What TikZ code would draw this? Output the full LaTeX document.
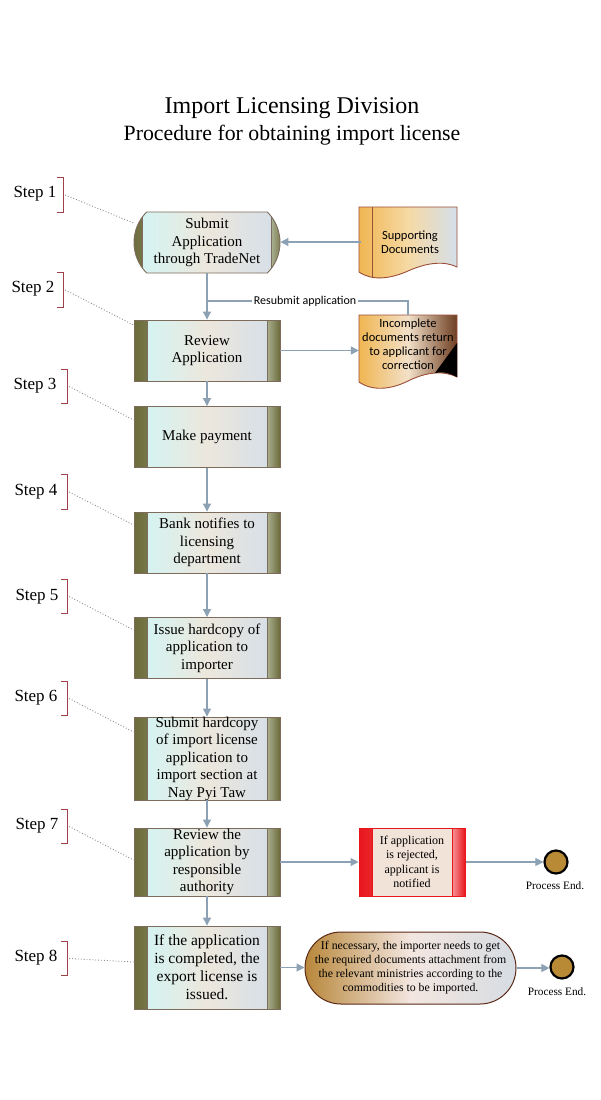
\documentclass[tikz,border=0pt]{standalone}
\usepackage{fontspec}
\setmainfont{Liberation Serif}
\newfontfamily\sansf{Carlito}
\usetikzlibrary{shapes.misc,arrows.meta}
\definecolor{bandD}{HTML}{6B6A3A}
\definecolor{bandL}{HTML}{DDE8D6}
\definecolor{cyanL}{HTML}{D0F6F6}
\definecolor{beigeM}{HTML}{ECE7DD}
\definecolor{greyB}{HTML}{D3DEE9}
\definecolor{boxline}{HTML}{7D6B5C}
\definecolor{arrowc}{HTML}{8CA1B4}
\definecolor{stepred}{HTML}{A0404A}
\definecolor{dotc}{HTML}{8C8C8C}
\definecolor{docline}{HTML}{9C4E38}
\definecolor{orangeD}{HTML}{F0B652}
\definecolor{docM}{HTML}{F6D9A4}
\definecolor{docR}{HTML}{D4DFEA}
\definecolor{incM}{HTML}{F2E0C8}
\definecolor{incR}{HTML}{6E3E22}
\definecolor{redB}{HTML}{E8161C}
\definecolor{redM}{HTML}{F2E3D9}
\definecolor{pillB}{HTML}{B8873A}
\definecolor{pillM}{HTML}{F3E6E0}
\definecolor{pillR}{HTML}{D6DCE2}
\definecolor{pillD}{HTML}{5B2A17}
\definecolor{goldC}{HTML}{B98A36}
\newcommand\mybands[4]{%
  \shade[left color=#1, right color=#2] (path picture bounding box.north west) rectangle ([xshift=13pt]path picture bounding box.south west);
  \shade[left color=#3, right color=#1] ([xshift=-13pt]path picture bounding box.north east) rectangle (path picture bounding box.south east);
  \draw[#4, line width=0.8pt] ([xshift=13pt]path picture bounding box.north west) -- ([xshift=13pt]path picture bounding box.south west)
    ([xshift=-13pt]path picture bounding box.north east) -- ([xshift=-13pt]path picture bounding box.south east);}
\begin{document}
\begin{tikzpicture}[x=1pt,y=-1pt,
  procbox/.style={rectangle, draw=boxline, line width=0.9pt, left color=cyanL, right color=greyB, middle color=beigeM,
    minimum width=146pt, inner sep=0pt, path picture={\mybands{bandD}{bandL}{bandD!45!bandL}{boxline}}},
  boxtext/.style={font=\fontsize{15}{17.5}\selectfont, align=center, inner sep=0pt},
  redbox/.style={rectangle, draw=redB, line width=1pt, fill=redM, minimum width=106pt, minimum height=68pt, inner sep=0pt,
    path picture={\mybands{redB}{redB!45!white}{redB!45!white}{redB}}},
  redtext/.style={font=\fontsize{12}{14.5}\selectfont, align=center, inner sep=0pt},
  pillbox/.style={rounded rectangle, draw=pillD, line width=1pt, left color=pillB, right color=pillR, middle color=pillM,
    minimum width=211pt, minimum height=72pt, inner sep=0pt},
  pilltext/.style={font=\fontsize{11.8}{14}\selectfont, align=center, inner sep=0pt},
  endc/.style={circle, draw=black, line width=2.2pt, fill=goldC, minimum size=23pt, inner sep=0pt},
  endtext/.style={font=\fontsize{11.3}{13}\selectfont, inner sep=0pt},
  doctext/.style={font=\sansf\fontsize{12.5}{14}\selectfont, align=center, inner sep=0pt, minimum width=98pt},
  docshape/.style={draw=docline, line width=0.9pt},
  conn/.style={draw=arrowc, line width=1.1pt, -{Triangle[length=8pt,width=8pt]}},
  connplain/.style={draw=arrowc, line width=1.1pt},
  steptext/.style={font=\fontsize{17}{20}\selectfont, inner sep=0pt},
  bracketn/.style={minimum width=6pt, minimum height=34pt, inner sep=0pt},
  bracketline/.style={draw=stepred, line width=1.3pt},
  dots/.style={draw=dotc, line width=0.9pt, dotted}
]
\useasboundingbox[fill=white] (0,0) rectangle (600,1100);

% titles
\node[font=\fontsize{24}{28}\selectfont, inner sep=0pt] (title) at (292,108) {Import Licensing Division};
\node[font=\fontsize{21.8}{25}\selectfont, inner sep=0pt] (subtitle) at (292,135) {Procedure for obtaining import license};

% document shapes
\path[docshape, left color=orangeD, right color=docR, middle color=docM]
  (359,207) -- (457,207) -- (457,267) .. controls (445,261) and (428,262) .. (408,271)
  .. controls (390,279) and (372,281) .. (359,272) -- cycle;
\draw[docshape] (372,207) -- (372,278);
\node[doctext, minimum height=70pt] (sd) at (410,242) {Supporting\\Documents};

\path[docshape, left color=orangeD, right color=incR, middle color=incM]
  (359,315) -- (457,315) -- (457,377) .. controls (445,371) and (428,371) .. (408,381)
  .. controls (390,390) and (372,391) .. (359,382) -- cycle;
\fill[black] (457,343) -- (435,373) .. controls (445,371) and (451,374) .. (457,377) -- cycle;
\node[doctext, minimum height=58pt] (inc) at (408,344) {Incomplete\\documents return\\to applicant for\\correction};

% process boxes
\node[procbox, rounded rectangle, rounded rectangle arc length=90, minimum height=61pt,
  label={[boxtext]center:{Submit\\Application\\through TradeNet}}] (s1) at (207,242.5) {};
\node[procbox, minimum height=61pt, label={[boxtext]center:{Review\\Application}}] (s2) at (207,350.5) {};
\node[procbox, minimum height=61pt, label={[boxtext]center:{Make payment}}] (s3) at (207,437) {};
\node[procbox, minimum height=61pt, label={[boxtext]center:{Bank notifies to\\licensing\\department}}] (s4) at (207,542.5) {};
\node[procbox, minimum height=61pt, label={[boxtext]center:{Issue hardcopy of\\application to\\importer}}] (s5) at (207,648) {};
\node[procbox, minimum height=83pt, label={[boxtext]center:{Submit hardcopy\\of import license\\application to\\import section at\\Nay Pyi Taw}}] (s6) at (207,758.5) {};
\node[procbox, minimum height=68pt, label={[boxtext]center:{Review the\\application by\\responsible\\authority}}] (s7) at (207,862) {};
\node[procbox, minimum height=83pt, label={[boxtext, font=\fontsize{15.5}{18}\selectfont]center:{If the application\\is completed, the\\export license is\\issued.}}] (s8) at (207,967.5) {};

\node[redbox, label={[redtext]center:{If application\\is rejected,\\applicant is\\notified}}] (red) at (412,862) {};
\node[pillbox, label={[pilltext]center:{If necessary, the importer needs to get\\the required documents attachment from\\the relevant ministries according to the\\commodities to be imported.}}] (pill) at (410.5,968) {};

\node[endc] (c1) at (556,862) {};
\node[endtext] (e1) at (555,886) {Process End.};
\node[endc] (c2) at (562,967) {};
\node[endtext] (e2) at (557,992) {Process End.};

% connectors
\coordinate (rs) at (207,301);
\draw[conn] (sd.west) -- (sd.west -| s1.east);
\draw[conn] (s1.south) -- (s2.north);
\draw[connplain] (inc.north) |- node[pos=0.756, fill=white, inner sep=1.5pt, font=\sansf\fontsize{12}{14}\selectfont] (rsl) {Resubmit application} (rs);
\draw[conn] (s2.east) -- (s2.east -| inc.west);
\draw[conn] (s2.south) -- (s3.north);
\draw[conn] (s3.south) -- (s4.north);
\draw[conn] (s4.south) -- (s5.north);
\draw[conn] (s5.south) -- (s6.north);
\draw[conn] (s6.south) -- (s7.north);
\draw[conn] (s7.south) -- (s8.north);
\draw[conn] (s7.east) -- (red.west);
\draw[conn] (red.east) -- (red.east -| c1.west);
\draw[conn] (s8.east) -- (s8.east -| pill.west);
\draw[conn] (pill.east) -- (pill.east -| c2.west);

% step labels
\foreach \i/\tx/\ty/\bx/\by/\target/\dy in {
  1/35/194/60/195/s1/19.5,
  2/33/289/60/290/s2/25.5,
  3/35/386/64/386.5/s3/17,
  4/36/492/64/492/s4/17.5,
  5/37/597/64/596.5/s5/18,
  6/36/698/64/698.5/s6/26.5,
  7/37/826/64/826.5/s7/2,
  8/36/958/64/958.5/s8/5.5}{
  \node[steptext] (st\i) at (\tx,\ty) {Step \i};
  \node[bracketn] (b\i) at (\bx,\by) {};
  \draw[bracketline] (b\i.north west) -- (b\i.north east) -- (b\i.south east) -- (b\i.south west);
  \draw[dots] ([xshift=2pt]b\i.east) -- ([yshift=\dy pt]\target.west);
}
\end{tikzpicture}
\end{document}
